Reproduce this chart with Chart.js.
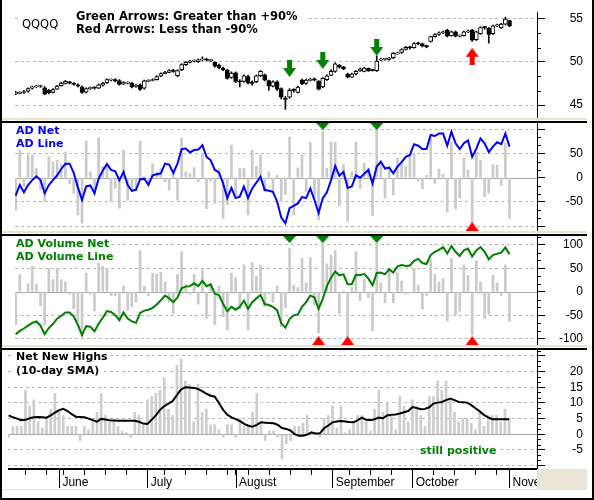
<!DOCTYPE html>
<html>
<head>
<meta charset="utf-8">
<title>QQQQ breadth panels</title>
<script src="https://cdn.jsdelivr.net/npm/chart.js@4.4.1/dist/chart.umd.min.js"></script>
<style>
  html, body { margin: 0; padding: 0; background: #fff; }
  #frame { position: relative; width: 594px; height: 500px; overflow: hidden; background: #fff; }
  canvas { position: absolute; left: 8px; }
  .rule { position: absolute; }
  .lbl {
    position: absolute;
    font-family: "DejaVu Sans", Verdana, sans-serif;
    font-weight: bold;
    font-size: 11px;
    line-height: 11px;
    white-space: nowrap;
    background: #fff;
    padding: 0 2px;
  }
</style>
</head>
<body>
<div id="frame">
  <!-- each canvas is 12px taller than its panel on top (and bottom), the chart area is the panel -->
  <canvas id="pricePanel" width="575" height="130" style="top:0px"></canvas>
  <canvas id="adPanel" width="575" height="132" style="top:111px"></canvas>
  <canvas id="volPanel" width="575" height="133" style="top:224px"></canvas>
  <canvas id="highsPanel" width="575" height="152" style="top:338px"></canvas>

  <!-- frame and panel separators -->
  <div class="rule" style="left:0;top:0;width:2px;height:500px;background:#000"></div>
  <div class="rule" style="left:592px;top:0;width:2px;height:500px;background:#000"></div>
  <div class="rule" style="left:0;top:498px;width:594px;height:2px;background:#000"></div>
  <div class="rule" style="left:2px;top:118px;width:585px;height:2px;background:#e6e3d2"></div>
  <div class="rule" style="left:2px;top:121px;width:585px;height:2px;background:#000"></div>
  <div class="rule" style="left:2px;top:231px;width:585px;height:2px;background:#e6e3d2"></div>
  <div class="rule" style="left:2px;top:234px;width:585px;height:2px;background:#000"></div>
  <div class="rule" style="left:2px;top:345px;width:585px;height:2px;background:#e6e3d2"></div>
  <div class="rule" style="left:2px;top:348px;width:585px;height:2px;background:#000"></div>
  <div class="rule" style="left:2px;top:489px;width:535px;height:1px;background:#e6e3d2"></div>
  <div class="rule" style="left:537px;top:469px;width:50px;height:21px;background:#e9e6d7"></div>

  <!-- panel titles -->
  <div class="rule" style="left:20px;top:11px;width:286px;height:26px;background:#fff"></div>
  <div class="lbl" style="left:20px;top:19.4px;font-weight:normal;font-size:11.5px;line-height:11.5px">QQQQ</div>
  <div class="lbl" style="left:74px;top:11px;font-size:11.5px;line-height:11.5px">Green Arrows: Greater than +90%</div>
  <div class="lbl" style="left:74px;top:23.6px;font-size:11.5px;line-height:11.5px">Red Arrows: Less than -90%</div>
  <div class="lbl" style="left:14px;top:125.4px;color:#0000ff">AD Net</div>
  <div class="lbl" style="left:14px;top:138px;color:#0000ff">AD Line</div>
  <div class="lbl" style="left:14px;top:238.4px;color:#008000">AD Volume Net</div>
  <div class="lbl" style="left:14px;top:251px;color:#008000">AD Volume Line</div>
  <div class="lbl" style="left:14px;top:351.4px">Net New Highs</div>
  <div class="lbl" style="left:14px;top:364.7px">(10-day SMA)</div>
  <div class="lbl" style="left:418px;top:444.7px;color:#008000">still positive</div>
</div>

<script>
// ===== data (trading days 15 May .. 1 Nov, index 0..119) =====
const monthNames = ["June", "July", "August", "September", "October", "November"];
const monthStart = [12, 33, 54, 77, 96, 119];
const weekStart = [4, 9, 13, 18, 23, 28, 33, 37, 42, 47, 52, 57, 62, 67, 72, 77, 81, 86, 91, 96, 101, 106, 111, 116];

// QQQQ daily candles
const priceOpen = [
  46.3, 46.35, 46.45, 46.6, 46.95, 47.1, 47.15, 47.0, 46.7, 46.45,
  46.85, 47.25, 47.5, 47.7, 47.5, 47.35, 47.1, 46.5, 46.9, 47.05,
  46.95, 47.3, 47.6, 47.9, 47.95, 47.85, 47.45, 47.55, 47.55, 47.15,
  47.35, 46.95, 47.75, 47.85, 47.95, 48.35, 48.65, 48.8, 49.05, 48.4,
  49.1, 49.7, 49.95, 50.1, 50.05, 50.25, 50.35, 50.15, 49.95, 49.65,
  49.3, 49.05, 48.2, 48.75, 47.8, 47.75, 48.3, 47.65, 47.7, 48.4,
  48.5, 47.85, 47.2, 47.7, 46.9, 45.8, 45.9, 46.75, 46.45, 47.9,
  47.5, 47.85, 48.05, 47.75, 47.1, 47.95, 48.45, 48.9, 49.65, 49.45,
  48.6, 48.25, 48.6, 48.95, 48.9, 49.25, 49.05, 49.0, 50.2, 50.3,
  50.3, 50.5, 50.95, 51.1, 51.45, 51.75, 51.65, 52.2, 52.1, 51.9,
  52.4, 52.95, 53.2, 53.4, 53.7, 53.05, 53.5, 53.0, 53.05, 53.5,
  53.7, 52.6, 53.3, 54.05, 53.9, 53.3, 54.2, 54.0, 54.4, 54.8
];
const priceHigh = [
  46.6, 46.55, 46.7, 47.0, 47.2, 47.3, 47.3, 47.15, 46.8, 46.9,
  47.3, 47.65, 47.85, 47.75, 47.6, 47.45, 47.2, 47.0, 47.1, 47.15,
  47.45, 47.65, 48.05, 48.05, 48.05, 47.95, 47.7, 47.7, 47.65, 47.4,
  47.45, 47.9, 47.95, 48.05, 48.4, 48.75, 48.9, 49.1, 49.15, 49.1,
  49.8, 50.05, 50.2, 50.25, 50.35, 50.6, 50.45, 50.3, 50.0, 49.75,
  49.4, 49.15, 48.85, 48.85, 47.95, 48.5, 48.45, 47.8, 48.5, 49.0,
  48.6, 47.9, 47.8, 47.8, 47.0, 46.0, 46.9, 46.9, 47.2, 48.0,
  48.0, 48.1, 48.15, 47.85, 48.2, 48.5, 49.1, 49.9, 49.7, 49.5,
  48.7, 48.7, 49.0, 49.3, 49.4, 49.3, 49.15, 50.7, 50.45, 50.45,
  50.55, 51.1, 51.15, 51.55, 51.8, 51.85, 52.25, 52.3, 52.2, 51.95,
  53.0, 53.3, 53.5, 53.6, 53.8, 53.6, 53.6, 53.15, 53.6, 53.7,
  53.8, 53.6, 54.1, 54.15, 54.0, 54.3, 54.4, 54.5, 55.2, 54.85
];
const priceLow = [
  46.2, 46.3, 46.35, 46.5, 46.85, 47.0, 47.05, 46.2, 46.3, 46.4,
  46.8, 47.2, 47.45, 47.45, 47.3, 47.1, 46.35, 46.4, 46.8, 46.85,
  46.9, 47.2, 47.5, 47.8, 47.7, 47.3, 47.35, 47.45, 47.0, 47.05,
  46.7, 46.85, 47.7, 47.8, 47.9, 48.3, 48.6, 48.75, 48.8, 48.3,
  49.0, 49.6, 49.9, 50.0, 49.95, 50.15, 50.1, 50.05, 49.4, 49.2,
  49.0, 48.0, 48.1, 47.6, 47.1, 47.65, 47.45, 47.3, 47.6, 48.3,
  47.8, 46.7, 47.1, 46.7, 45.7, 44.5, 45.8, 46.5, 46.4, 47.35,
  47.4, 47.8, 47.8, 46.75, 47.0, 47.85, 48.4, 48.8, 49.3, 49.1,
  48.15, 48.2, 48.5, 48.9, 48.85, 48.9, 48.95, 48.9, 50.15, 50.2,
  50.2, 50.4, 50.9, 51.0, 51.4, 51.5, 51.6, 52.0, 51.75, 51.65,
  52.3, 52.9, 53.1, 53.3, 52.9, 53.0, 52.9, 52.9, 53.0, 53.4,
  52.4, 52.5, 53.2, 53.8, 52.2, 53.2, 54.1, 53.9, 54.3, 54.1
];
const priceClose = [
  46.45, 46.45, 46.55, 46.9, 47.1, 47.2, 47.2, 46.25, 46.4, 46.8,
  47.2, 47.55, 47.75, 47.55, 47.4, 47.2, 46.45, 46.9, 47.0, 46.95,
  47.35, 47.55, 47.95, 47.95, 47.8, 47.4, 47.6, 47.6, 47.1, 47.3,
  46.8, 47.8, 47.85, 47.95, 48.3, 48.65, 48.8, 49.0, 48.9, 49.0,
  49.7, 49.95, 50.1, 50.15, 50.25, 50.35, 50.2, 50.2, 49.5, 49.3,
  49.1, 48.1, 48.7, 47.75, 47.7, 48.4, 47.55, 47.5, 48.4, 48.9,
  47.9, 47.2, 47.7, 46.85, 45.9, 45.65, 46.7, 46.7, 47.07, 47.45,
  47.9, 48.0, 47.9, 46.85, 48.1, 48.4, 48.9, 49.8, 49.4, 49.2,
  48.25, 48.6, 48.9, 49.2, 49.3, 49.0, 49.0, 50.1, 50.35, 50.35,
  50.45, 51.0, 51.05, 51.45, 51.7, 51.65, 52.15, 52.1, 51.85, 51.75,
  52.95, 53.2, 53.4, 53.5, 53.0, 53.5, 53.0, 53.05, 53.5, 53.6,
  52.55, 53.5, 54.0, 54.0, 53.2, 54.2, 54.3, 54.4, 55.0, 54.2
];

// arrow marks on the price panel (day, price at arrow centre)
const greenArrowDays = [66, 74, 87];
const greenArrowPrice = [49.24, 50.17, 51.69];
const redArrowDays = [110];
const redArrowPrice = [50.66];

// advance-decline (issues)
const adNet = [
  -68, 57, -18, 47, 47, 19, -25, -49, 43, 33,
  36, 27, 53, -12, -32, -77, -94, 75, 12, -36,
  82, 23, 26, -49, -22, -63, 57, -46, -25, -22,
  75, 2, -15, 29, 12, 19, -8, -25, 12, -46,
  82, 12, 9, 21, -8, 50, -64, -7, -53, 19,
  -84, -56, 67, -36, 19, 19, -77, 57, 23, 47,
  -29, 12, -27, 5, -49, -34, 84, -77, 20, 47,
  -29, 73, -42, -87, 95, 19, 74, 73, -58, 27,
  -90, 12, 73, -22, 30, 20, -78, 98, 33, -42,
  23, -36, 40, 32, 23, 47, 50, -7, -23, 5,
  81, -12, 18, 7, -71, 74, -64, -42, 41, 16,
  -97, 53, 36, -39, -32, 27, 26, -16, 71, -84
];
const adLine = [
  -37, -15, -30, -15, -5, 3, -5, -32, -15, -5,
  5, 18, 29, 29, 10, -20, -46, -18, -16, -32,
  -2, 15, 28, 16, 13, -5, 12, -15, -27, -25,
  -3, -2, -15, 5, 7, 9, 29, 27, 10, 29,
  59, 60, 52, 57, 58, 67, 43, 36, 16, 11,
  -12, -42, -21, -42, -39, -18, -42, -22, -10, 2,
  -25, -27, -29, -49, -82, -94, -63, -58, -53, -40,
  -42, -22, -46, -73, -42, -30, -5, 24, 4, 12,
  -21, -18, 5, 0, 8, 16, -12, 23, 33, 19,
  21, 9, 23, 32, 43, 47, 69, 66, 59, 59,
  88, 86, 91, 91, 66, 95, 71, 59, 71, 77,
  43, 60, 81, 71, 53, 64, 73, 69, 91, 64
];
const adGreenDays = [74, 87];
const adRedDays = [110];

// advance-decline (volume)
const volNet = [
  -70, 37, -3, 17, 54, 16, -30, -70, 50, 26,
  50, 26, 21, -5, -36, -63, -84, 40, -5, -41,
  61, 54, 50, -8, -8, -63, 12, -39, -32, -22,
  88, 12, -8, 39, 37, 41, 21, -22, -46, 37,
  85, 16, -5, 37, -26, 47, -57, 16, -70, 12,
  -53, -81, 40, 30, -37, 57, -81, 62, 33, 57,
  -32, -5, -22, 12, -74, -33, 92, 14, 9, 71,
  19, 73, -28, -88, 104, 59, 78, 88, -46, 2,
  -95, 9, 85, -19, 26, -12, -83, 104, 19, -23,
  47, -23, 41, 23, -5, -3, 50, 14, -37, -8,
  68, 37, 21, 28, -62, 71, -48, -41, 57, 35,
  -92, 66, 21, -57, -48, 35, 19, -8, 57, -63
];
const volLine = [
  -90, -83, -78, -72, -66, -63, -72, -90, -77, -68,
  -57, -51, -44, -44, -52, -70, -92, -73, -74, -84,
  -68, -55, -41, -43, -50, -60, -44, -57, -63, -66,
  -45, -40, -38, -34, -27, -18, -8, -14, -22, -12,
  8, 11, 12, 18, 12, 23, 12, 16, -4, -7,
  -26, -41, -32, -38, -32, -19, -36, -22, -14, -7,
  -26, -28, -32, -39, -67, -76, -58, -50, -48, -32,
  -22, -8, -12, -36, -15, 12, 30, 43, 35, 37,
  16, 16, 36, 35, 38, 28, 14, 40, 41, 37,
  48, 41, 54, 57, 55, 56, 66, 70, 61, 59,
  78, 85, 89, 95, 81, 97, 85, 76, 88, 92,
  75, 88, 95, 85, 69, 78, 81, 83, 94, 80
];
const volGreenDays = [66, 74, 87];
const volRedDays = [73, 80, 110];

// net new highs and its 10-day average
const netHighs = [
  -1, 2.5, 2.5, 2.5, 14, 9, 11, 4, 2, 5,
  8, 13, 8, 6, 2.5, 2.5, 2.5, -2, 2.5, 1.4,
  4, 7, 13, 6, 4, 4, 2.5, 1, 0.5, -1,
  7, 6, 3, 11, 12, 13, 14, 18, 8, 6,
  22, 24, 17, 16, 4, 16, 7, 8, 3, 3,
  1.4, -1, 3, 3, -1, 5, 2.5, 3, 7, 13,
  3, -2, 1, 1, -1, -8, -3, -2, 2.5, 2.5,
  3.5, 6, 0.5, 0.5, -1, 5, 6, 9, 2, 9,
  0.5, 1.4, 4, 6, 6, 4, 1, 8, 14, 7,
  10, 6, 1.4, 12, 9, 4, 11, 9, 6, 2.5,
  12, 12, 17, 14, 17, 11, 7, 4, 5, 5,
  3.5, 1.4, 7, 2.5, 6, 6, 6, 4, 8, 5
];
const highsSma = [
  6.0, 5.4, 5.0, 4.5, 4.6, 5.1, 5.4, 5.5, 5.4, 5.3,
  6.0, 6.9, 7.7, 8.1, 7.4, 6.4, 5.6, 5.5, 5.4, 5.0,
  4.5, 4.0, 4.9, 4.7, 4.5, 4.4, 4.3, 4.3, 4.3, 4.3,
  4.3, 4.0, 3.4, 3.3, 4.6, 6.0, 7.8, 9.0, 9.8, 10.6,
  12.5, 14.3, 15.0, 14.9, 14.8, 14.5, 13.8, 13.0, 12.3, 12.0,
  10.0, 7.8, 6.2, 5.4, 4.8, 4.2, 3.3, 2.7, 2.4, 3.0,
  3.8, 3.7, 3.6, 3.5, 3.0, 2.0, 1.7, 1.2, 0.0, -0.5,
  -0.5, -0.1, 0.6, 0.2, 0.3, 1.9, 2.8, 3.8, 4.1, 4.2,
  4.1, 3.9, 3.8, 4.5, 5.3, 4.6, 4.5, 4.8, 5.3, 5.1,
  6.0, 6.2, 6.3, 6.6, 7.0, 7.4, 8.7, 8.4, 8.0, 8.1,
  8.6, 9.8, 10.1, 10.3, 10.9, 11.4, 10.9, 10.3, 10.2, 10.1,
  9.3, 8.3, 7.3, 6.2, 5.4, 4.8, 4.8, 4.8, 4.8, 4.8
];

// right-hand tick labels
const priceTicks = [45, 50, 55];
const adTicks = [-100, -50, 0, 50, 100];
const adLabels = [-50, 0, 50];
const volLabels = [-100, -50, 0, 50, 100];
const highsTicks = [-10, -5, 0, 5, 10, 15, 20, 25];
const highsLabels = [-5, 0, 5, 10, 15, 20];

// ===== layout =====
const X_MIN = -0.15;
const X_MAX = 125.62;
const AXIS_W = 46;
const PAD = 12;
const TICK_FONT = { family: "'Liberation Sans', Arial, sans-serif", size: 12 };
const BAR_GREY = "#cacaca";

Chart.defaults.font.family = TICK_FONT.family;

function points(values) {
  return values.map((v, i) => ({ x: i, y: v }));
}

// little canvases used as point styles
function arrowIcon(color, down) {
  const c = document.createElement("canvas");
  c.width = 13;
  c.height = 17;
  const g = c.getContext("2d");
  g.fillStyle = color;
  g.beginPath();
  if (down) {
    g.moveTo(4, 0); g.lineTo(9, 0); g.lineTo(9, 8); g.lineTo(13, 8);
    g.lineTo(6.5, 17); g.lineTo(0, 8); g.lineTo(4, 8);
  } else {
    g.moveTo(4, 17); g.lineTo(9, 17); g.lineTo(9, 9); g.lineTo(13, 9);
    g.lineTo(6.5, 0); g.lineTo(0, 9); g.lineTo(4, 9);
  }
  g.closePath();
  g.fill();
  return c;
}

// triangle drawn in one half, so the point itself sits on the panel edge
function edgeTriangle(color, atTop) {
  const c = document.createElement("canvas");
  c.width = 13;
  c.height = 18;
  const g = c.getContext("2d");
  g.fillStyle = color;
  g.beginPath();
  if (atTop) {
    g.moveTo(0, 9); g.lineTo(13, 9); g.lineTo(6.5, 16);
  } else {
    g.moveTo(0, 9); g.lineTo(13, 9); g.lineTo(6.5, 0);
  }
  g.closePath();
  g.fill();
  return c;
}

const greenDown = arrowIcon("#008000", true);
const redUp = arrowIcon("#ff0000", false);
const greenEdge = edgeTriangle("#008000", true);
const redEdge = edgeTriangle("#ff0000", false);

function markers(days, yValues, icon) {
  return {
    type: "line",
    data: days.map((d, i) => ({ x: d, y: Array.isArray(yValues) ? yValues[i] : yValues })),
    showLine: false,
    pointStyle: icon,
    pointRadius: 6,
    clip: false,
    order: 0,
  };
}

// zero line and minor ticks, month ticks under the last panel
const panelExtras = {
  id: "panelExtras",
  beforeDatasetsDraw(chart, args, opts) {
    if (!opts.zeroLine) return;
    const { ctx, chartArea, scales } = chart;
    const y = Math.round(scales.y.getPixelForValue(0)) + 0.5;
    ctx.save();
    ctx.strokeStyle = "#a8a8a8";
    ctx.lineWidth = 1;
    ctx.beginPath();
    ctx.moveTo(chartArea.left, y);
    ctx.lineTo(chartArea.right, y);
    ctx.stroke();
    ctx.restore();
  },
  afterDraw(chart, args, opts) {
    const { ctx, chartArea, scales } = chart;
    ctx.save();
    ctx.strokeStyle = "#000";
    ctx.lineWidth = 1;
    ctx.beginPath();
    const step = opts.minorStep;
    const first = Math.ceil(scales.y.min / step);
    const last = Math.floor(scales.y.max / step);
    for (let k = first; k <= last; k++) {
      if (k % 3 === 0) continue;
      const py = Math.round(scales.y.getPixelForValue(k * step)) + 0.5;
      ctx.moveTo(chartArea.right, py);
      ctx.lineTo(chartArea.right + 4, py);
    }
    if (opts.monthTicks) {
      monthStart.forEach((d) => {
        const px = Math.round(scales.x.getPixelForValue(d)) + 0.5;
        ctx.moveTo(px, chartArea.bottom);
        ctx.lineTo(px, chartArea.bottom + 19);
      });
    }
    ctx.stroke();
    ctx.restore();
  },
};

function rightAxis(min, max, tickValues, labelValues, zeroLine) {
  return {
    position: "right",
    min: min,
    max: max,
    offset: false,
    grace: 0,
    afterBuildTicks: (axis) => {
      axis.ticks = tickValues.map((v) => ({ value: v }));
    },
    afterFit: (axis) => {
      axis.width = AXIS_W;
      axis.paddingTop = 0;
      axis.paddingBottom = 0;
    },
    ticks: {
      autoSkip: false,
      crossAlign: "far",
      color: "#000",
      font: TICK_FONT,
      callback: (v) => (labelValues.includes(v) ? String(v) : ""),
    },
    grid: {
      offset: false,
      color: (c) => (zeroLine && c.tick && c.tick.value === 0 ? "rgba(0,0,0,0)" : "#b8b8b8"),
      lineWidth: 1,
      tickLength: 8,
      tickColor: "#000",
      tickBorderDash: [],
    },
    border: { display: true, color: "#000", width: 1, dash: [3, 3] },
  };
}

function hiddenTimeAxis() {
  return { type: "linear", min: X_MIN, max: X_MAX, offset: false, bounds: "data", display: false, grid: { offset: false } };
}

function timeAxis() {
  const tickDays = [...new Set([...weekStart, ...monthStart])].sort((a, b) => a - b);
  return {
    type: "linear",
    min: X_MIN,
    max: X_MAX,
    offset: false,
    bounds: "data",
    afterBuildTicks: (axis) => {
      axis.ticks = tickDays.map((d) => ({ value: d }));
    },
    afterFit: (axis) => {
      axis.height = 21;
      axis.paddingLeft = 0;
      axis.paddingRight = 0;
    },
    ticks: {
      autoSkip: false,
      maxRotation: 0,
      minRotation: 0,
      align: "start",
      padding: 0,
      color: "#000",
      font: TICK_FONT,
      callback: (v) => {
        const m = monthStart.indexOf(v);
        return m >= 0 ? " " + monthNames[m] : "";
      },
    },
    grid: { offset: false, drawOnChartArea: false, tickLength: 6, tickColor: "#000" },
    border: { display: true, color: "#000", width: 2 },
  };
}

function panelOptions(xAxis, yAxis, extras, padBottom) {
  return {
    responsive: false,
    animation: false,
    events: [],
    layout: { padding: { top: PAD, bottom: padBottom, left: 0, right: 0 } },
    plugins: { legend: { display: false }, tooltip: { enabled: false }, panelExtras: extras },
    scales: { x: xAxis, y: yAxis },
  };
}

function netBars(values, color) {
  return {
    type: "bar",
    data: points(values),
    backgroundColor: color,
    barThickness: 2,
    grouped: false,
    order: 2,
  };
}

function indicatorLine(values, color) {
  return {
    type: "line",
    data: points(values),
    borderColor: color,
    borderWidth: 2,
    pointRadius: 0,
    tension: 0,
    order: 1,
  };
}

// ===== price panel =====
const P1_MIN = 43.49, P1_MAX = 55.81;
new Chart(document.getElementById("pricePanel"), {
  type: "bar",
  data: {
    datasets: [
      markers(greenArrowDays, greenArrowPrice, greenDown),
      markers(redArrowDays, redArrowPrice, redUp),
      {
        type: "bar",
        data: priceOpen.map((o, i) => ({ x: i, y: [o, priceClose[i]] })),
        backgroundColor: priceOpen.map((o, i) => (priceClose[i] >= o ? "#fff" : "#000")),
        borderColor: "#000",
        borderWidth: 1,
        borderSkipped: false,
        barThickness: 4,
        minBarLength: 1,
        grouped: false,
        order: 1,
      },
      {
        type: "bar",
        data: priceLow.map((l, i) => ({ x: i, y: [l, priceHigh[i]] })),
        backgroundColor: "#000",
        barThickness: 1,
        grouped: false,
        order: 2,
      },
    ],
  },
  options: panelOptions(hiddenTimeAxis(), rightAxis(P1_MIN, P1_MAX, priceTicks, priceTicks, false), { minorStep: 5 / 3 }, PAD),
  plugins: [panelExtras],
});

// ===== AD panel =====
const P2_MIN = -109.9, P2_MAX = 112.8;
new Chart(document.getElementById("adPanel"), {
  type: "bar",
  data: {
    datasets: [
      markers(adGreenDays, P2_MAX, greenEdge),
      markers(adRedDays, P2_MIN, redEdge),
      indicatorLine(adLine, "#0000ff"),
      netBars(adNet, BAR_GREY),
    ],
  },
  options: panelOptions(hiddenTimeAxis(), rightAxis(P2_MIN, P2_MAX, adTicks, adLabels, true), { zeroLine: true, minorStep: 50 / 3 }, PAD),
  plugins: [panelExtras],
});

// ===== AD volume panel =====
const P3_MIN = -113, P3_MAX = 118.5;
new Chart(document.getElementById("volPanel"), {
  type: "bar",
  data: {
    datasets: [
      markers(volGreenDays, P3_MAX, greenEdge),
      markers(volRedDays, P3_MIN, redEdge),
      indicatorLine(volLine, "#008000"),
      netBars(volNet, BAR_GREY),
    ],
  },
  options: panelOptions(hiddenTimeAxis(), rightAxis(P3_MIN, P3_MAX, adTicks, volLabels, true), { zeroLine: true, minorStep: 50 / 3 }, PAD),
  plugins: [panelExtras],
});

// ===== net new highs panel =====
const P4_MIN = -11.1, P4_MAX = 26.9;
new Chart(document.getElementById("highsPanel"), {
  type: "bar",
  data: {
    datasets: [
      indicatorLine(highsSma, "#000"),
      netBars(netHighs, "#cdcdcd"),
    ],
  },
  options: panelOptions(timeAxis(), rightAxis(P4_MIN, P4_MAX, highsTicks, highsLabels, true), { zeroLine: true, minorStep: 5 / 3, monthTicks: true }, 0),
  plugins: [panelExtras],
});
</script>
</body>
</html>
